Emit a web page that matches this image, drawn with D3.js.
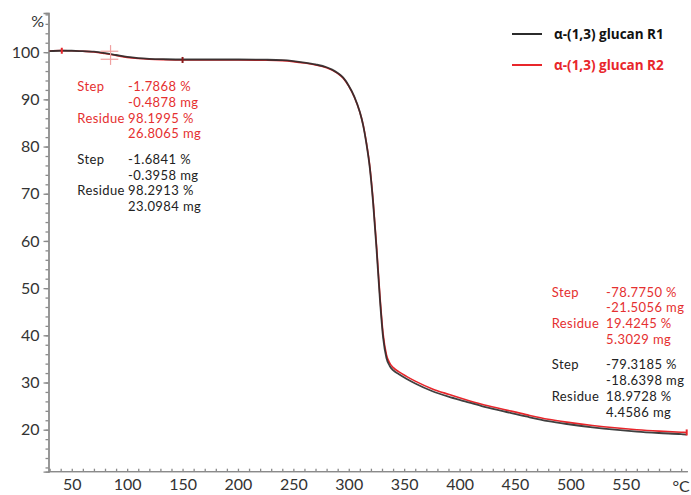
<!DOCTYPE html>
<html lang="en">
<head>
  <meta charset="UTF-8">
  <title>TGA alpha-(1,3) glucan</title>
  <script src="https://d3js.org/d3.v7.min.js"></script>
  <style>
    body {
      margin: 0;
      background: #fff;
      font-family: Lato, "Open Sans", sans-serif;
    }
  </style>
</head>
<body>
<svg width="691" height="495"></svg>

<script>
  // temperature (°C) and weight (%)
  const temps = [30, 40, 50, 60, 70, 80, 90, 100, 110, 120, 135, 150, 175, 200, 225, 240, 250, 260, 270, 280,
    285, 290, 295, 300, 305, 310, 313, 316, 319, 322, 325, 328, 331, 334, 337, 340, 345, 352, 360, 375,
    390, 405, 420, 440, 460, 480, 500, 520, 540, 560, 580, 600, 605];

  const r1 = [100.2, 100.3, 100.3, 100.2, 100.1, 99.8, 99.4, 99.0, 98.75, 98.6, 98.5, 98.45, 98.45, 98.45, 98.4, 98.3, 98.1, 97.8, 97.4, 96.8,
    96.3, 95.6, 94.6, 92.9, 90.6, 87.3, 84.5, 80.5, 75.5, 68, 58.5, 48, 39.5, 35.2, 33.5, 32.6, 31.8, 30.8, 29.8, 28.2,
    27, 26, 25, 23.9, 22.8, 21.8, 21.1, 20.5, 20.0, 19.6, 19.3, 19.05, 18.97];

  const r2 = [100.25, 100.35, 100.3, 100.2, 100.05, 99.7, 99.3, 98.9, 98.65, 98.5, 98.4, 98.35, 98.35, 98.35, 98.3, 98.2, 98.0, 97.7, 97.3, 96.7,
    96.2, 95.5, 94.5, 92.8, 90.5, 87.3, 84.6, 80.7, 75.8, 68.5, 59.2, 48.8, 40.3, 35.9, 34.1, 33.2, 32.3, 31.3, 30.3, 28.7,
    27.5, 26.4, 25.4, 24.3, 23.2, 22.2, 21.5, 20.9, 20.4, 20.0, 19.7, 19.47, 19.42];

  const seriesNames = ["α-(1,3) glucan R1", "α-(1,3) glucan R2"];
  const seriesColors = ["#2b2b2b", "#e8262b"];

  const xTickLabels = [50, 100, 150, 200, 250, 300, 350, 400, 450, 500, 550];
  const yTickLabels = [20, 30, 40, 50, 60, 70, 80, 90, 100];

  // evaluation results
  const stepLabels = ["Step", "", "Residue", ""];
  const leftR2 = ["-1.7868 %", "-0.4878 mg", "98.1995 %", "26.8065 mg"];
  const leftR1 = ["-1.6841 %", "-0.3958 mg", "98.2913 %", "23.0984 mg"];
  const rightR2 = ["-78.7750 %", "-21.5056 mg", "19.4245 %", "5.3029 mg"];
  const rightR1 = ["-79.3185 %", "-18.6398 mg", "18.9728 %", "4.4586 mg"];

  // marks on the R2 curve
  const markerTemps = [41, 150, 605];
  const stepCrossTemp = 85;
  const stepCrossLevels = [100.2, 98.5];

  const svg = d3.select("svg");

  const x = d3.scaleLinear().domain([29, 606]).range([48.5, 687.8]);
  const y = d3.scaleLinear().domain([11.1, 108.3]).range([471.7, 13]);

  const axisColor = "#8a8a8a";
  const labelColor = "#333";

  // y axis
  const yAxis = svg.append("g").attr("transform", `translate(${x.range()[0]},0)`);
  yAxis.call(d3.axisLeft(y).tickValues(d3.range(12, 109, 2)).tickSize(3).tickFormat(""));
  yAxis.append("g").call(d3.axisLeft(y).tickValues(yTickLabels).tickSize(5).tickPadding(4));
  yAxis.selectAll("path, line").attr("stroke", axisColor).attr("stroke-width", 1.3);
  yAxis.selectAll("text").attr("fill", labelColor).style("font-size", "16px").style("font-family", "Lato");

  // x axis
  const xAxis = svg.append("g").attr("transform", `translate(0,${y.range()[0]})`);
  xAxis.call(d3.axisTop(x).tickValues(d3.range(30, 601, 10)).tickSize(3).tickFormat(""));
  xAxis.append("g").call(d3.axisBottom(x).tickValues(xTickLabels).tickSize(0).tickPadding(7));
  xAxis.selectAll("path, line").attr("stroke", axisColor).attr("stroke-width", 1.3);
  xAxis.selectAll(".domain").attr("d", `M${x.range()[0]},0H${x.range()[1]}`);
  xAxis.selectAll("text").attr("fill", labelColor).style("font-size", "16px").style("font-family", "Lato");

  svg.append("text")
    .attr("x", 44).attr("y", 27)
    .attr("text-anchor", "end")
    .attr("fill", labelColor)
    .style("font-size", "16px")
    .text("%");

  svg.append("text")
    .attr("x", x(600)).attr("y", y.range()[0] + 20)
    .attr("text-anchor", "middle")
    .attr("fill", labelColor)
    .style("font-size", "16px")
    .text("°C");

  // curves
  const line = d3.line()
    .x((d, i) => x(temps[i]))
    .y(d => y(d))
    .curve(d3.curveMonotoneX);

  svg.append("path")
    .datum(r2)
    .attr("fill", "none")
    .attr("stroke", seriesColors[1])
    .attr("stroke-width", 1.6)
    .attr("d", line);

  svg.append("path")
    .datum(r1)
    .attr("fill", "none")
    .attr("stroke", seriesColors[0])
    .attr("stroke-opacity", 0.9)
    .attr("stroke-width", 1.8)
    .attr("d", line);

  // step evaluation cross
  const r2At = t => r2[d3.bisectLeft(temps, t)];
  svg.append("line")
    .attr("x1", x(stepCrossTemp)).attr("x2", x(stepCrossTemp))
    .attr("y1", y(101.5)).attr("y2", y(97.3))
    .attr("stroke", "#f0a0a0").attr("stroke-width", 1.2);
  svg.selectAll(".cross-h")
    .data(stepCrossLevels)
    .join("line")
    .attr("x1", x(stepCrossTemp - 9)).attr("x2", x(stepCrossTemp + 7))
    .attr("y1", d => y(d)).attr("y2", d => y(d))
    .attr("stroke", "#f0a0a0").attr("stroke-width", 1.2);

  svg.selectAll(".marker")
    .data(markerTemps)
    .join("line")
    .attr("x1", d => x(d)).attr("x2", d => x(d))
    .attr("y1", d => y(r2At(d)) - 3).attr("y2", d => y(r2At(d)) + 3)
    .attr("stroke", (d, i) => i === 1 ? "#8b1a1a" : seriesColors[1])
    .attr("stroke-width", 2);

  // legend
  const legend = svg.append("g");
  seriesNames.forEach((name, i) => {
    const ly = 34 + i * 31;
    legend.append("line")
      .attr("x1", 512).attr("x2", 542)
      .attr("y1", ly).attr("y2", ly)
      .attr("stroke", seriesColors[i]).attr("stroke-width", 2);
    legend.append("text")
      .attr("x", 554).attr("y", ly + 5)
      .attr("fill", i === 0 ? "#111" : seriesColors[i])
      .style("font-family", "'Open Sans'")
      .style("font-size", "13.5px")
      .style("font-weight", "bold")
      .text(name);
  });

  // annotation blocks: label and value rows
  function block(t0, t1, v, values, color) {
    const g = svg.append("g")
      .attr("fill", color)
      .style("font-family", "Lato")
      .style("font-size", "13px")
      .style("letter-spacing", "0.4px");
    values.forEach((val, i) => {
      const yy = y(v) + i * 15.7 + 5;
      if (stepLabels[i]) g.append("text").attr("x", x(t0)).attr("y", yy).text(stepLabels[i]);
      g.append("text").attr("x", x(t1)).attr("y", yy).text(val);
    });
  }

  block(55, 100.8, 92.8, leftR2, "#e53030");
  block(55, 100.8, 92.8 - 72.8 / 4.719, leftR1, "#222");
  block(483.2, 532.2, 49.25, rightR2, "#e53030");
  block(483.2, 532.2, 49.25 - 72.8 / 4.719, rightR1, "#222");
</script>
</body>
</html>
